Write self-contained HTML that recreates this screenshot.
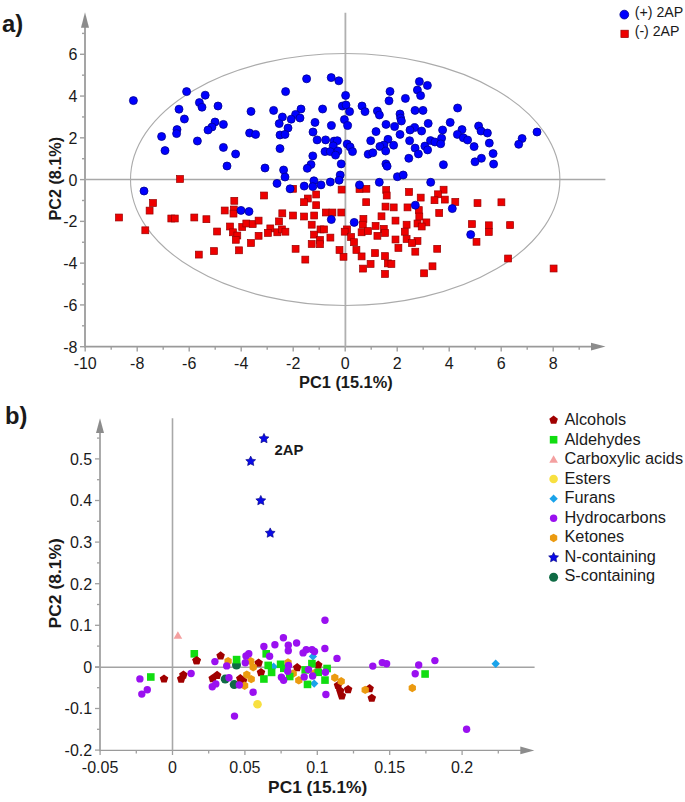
<!DOCTYPE html>
<html><head><meta charset="utf-8"><style>
html,body{margin:0;padding:0;background:#fff;}
svg{display:block;font-family:"Liberation Sans",sans-serif;}
</style></head><body>
<svg width="685" height="802" viewBox="0 0 685 802">
<rect width="685" height="802" fill="#fff"/>
<line x1="85.00" y1="26.00" x2="85.00" y2="347.40" stroke="#a5a5a5" stroke-width="2"/>
<line x1="84.20" y1="346.60" x2="592.00" y2="346.60" stroke="#9a9a9a" stroke-width="1.6"/>
<polygon points="85,12.3 81,27.8 89,27.8" fill="#8c8c8c"/>
<polygon points="605.5,346.6 591,342.8 591,350.4" fill="#8c8c8c"/>
<line x1="345.40" y1="12.80" x2="345.40" y2="346.70" stroke="#b0b0b0" stroke-width="1.8"/>
<line x1="85.00" y1="179.50" x2="605.40" y2="179.50" stroke="#a8a8a8" stroke-width="1.6"/>
<ellipse cx="345.2" cy="179.5" rx="214.7" ry="126" fill="none" stroke="#ababab" stroke-width="1.1"/>
<line x1="80.00" y1="346.69" x2="85.00" y2="346.69" stroke="#a0a0a0" stroke-width="1.4"/>
<text x="77.50" y="352.69" font-size="16" text-anchor="end" fill="#1a1a1a">-8</text>
<line x1="82.00" y1="325.80" x2="85.00" y2="325.80" stroke="#a0a0a0" stroke-width="1.4"/>
<line x1="80.00" y1="304.92" x2="85.00" y2="304.92" stroke="#a0a0a0" stroke-width="1.4"/>
<text x="77.50" y="310.92" font-size="16" text-anchor="end" fill="#1a1a1a">-6</text>
<line x1="82.00" y1="284.03" x2="85.00" y2="284.03" stroke="#a0a0a0" stroke-width="1.4"/>
<line x1="80.00" y1="263.14" x2="85.00" y2="263.14" stroke="#a0a0a0" stroke-width="1.4"/>
<text x="77.50" y="269.14" font-size="16" text-anchor="end" fill="#1a1a1a">-4</text>
<line x1="82.00" y1="242.26" x2="85.00" y2="242.26" stroke="#a0a0a0" stroke-width="1.4"/>
<line x1="80.00" y1="221.37" x2="85.00" y2="221.37" stroke="#a0a0a0" stroke-width="1.4"/>
<text x="77.50" y="227.37" font-size="16" text-anchor="end" fill="#1a1a1a">-2</text>
<line x1="82.00" y1="200.49" x2="85.00" y2="200.49" stroke="#a0a0a0" stroke-width="1.4"/>
<line x1="80.00" y1="179.60" x2="85.00" y2="179.60" stroke="#a0a0a0" stroke-width="1.4"/>
<text x="77.50" y="185.60" font-size="16" text-anchor="end" fill="#1a1a1a">0</text>
<line x1="82.00" y1="158.71" x2="85.00" y2="158.71" stroke="#a0a0a0" stroke-width="1.4"/>
<line x1="80.00" y1="137.83" x2="85.00" y2="137.83" stroke="#a0a0a0" stroke-width="1.4"/>
<text x="77.50" y="143.83" font-size="16" text-anchor="end" fill="#1a1a1a">2</text>
<line x1="82.00" y1="116.94" x2="85.00" y2="116.94" stroke="#a0a0a0" stroke-width="1.4"/>
<line x1="80.00" y1="96.06" x2="85.00" y2="96.06" stroke="#a0a0a0" stroke-width="1.4"/>
<text x="77.50" y="102.06" font-size="16" text-anchor="end" fill="#1a1a1a">4</text>
<line x1="82.00" y1="75.17" x2="85.00" y2="75.17" stroke="#a0a0a0" stroke-width="1.4"/>
<line x1="80.00" y1="54.28" x2="85.00" y2="54.28" stroke="#a0a0a0" stroke-width="1.4"/>
<text x="77.50" y="60.28" font-size="16" text-anchor="end" fill="#1a1a1a">6</text>
<line x1="82.00" y1="33.40" x2="85.00" y2="33.40" stroke="#a0a0a0" stroke-width="1.4"/>
<line x1="85.20" y1="346.70" x2="85.20" y2="351.50" stroke="#a0a0a0" stroke-width="1.4"/>
<text x="85.20" y="369.20" font-size="16" text-anchor="middle" fill="#1a1a1a">-10</text>
<line x1="111.20" y1="346.70" x2="111.20" y2="349.80" stroke="#a0a0a0" stroke-width="1.4"/>
<line x1="137.20" y1="346.70" x2="137.20" y2="351.50" stroke="#a0a0a0" stroke-width="1.4"/>
<text x="137.20" y="369.20" font-size="16" text-anchor="middle" fill="#1a1a1a">-8</text>
<line x1="163.20" y1="346.70" x2="163.20" y2="349.80" stroke="#a0a0a0" stroke-width="1.4"/>
<line x1="189.20" y1="346.70" x2="189.20" y2="351.50" stroke="#a0a0a0" stroke-width="1.4"/>
<text x="189.20" y="369.20" font-size="16" text-anchor="middle" fill="#1a1a1a">-6</text>
<line x1="215.20" y1="346.70" x2="215.20" y2="349.80" stroke="#a0a0a0" stroke-width="1.4"/>
<line x1="241.20" y1="346.70" x2="241.20" y2="351.50" stroke="#a0a0a0" stroke-width="1.4"/>
<text x="241.20" y="369.20" font-size="16" text-anchor="middle" fill="#1a1a1a">-4</text>
<line x1="267.20" y1="346.70" x2="267.20" y2="349.80" stroke="#a0a0a0" stroke-width="1.4"/>
<line x1="293.20" y1="346.70" x2="293.20" y2="351.50" stroke="#a0a0a0" stroke-width="1.4"/>
<text x="293.20" y="369.20" font-size="16" text-anchor="middle" fill="#1a1a1a">-2</text>
<line x1="319.20" y1="346.70" x2="319.20" y2="349.80" stroke="#a0a0a0" stroke-width="1.4"/>
<line x1="345.20" y1="346.70" x2="345.20" y2="351.50" stroke="#a0a0a0" stroke-width="1.4"/>
<text x="345.20" y="369.20" font-size="16" text-anchor="middle" fill="#1a1a1a">0</text>
<line x1="371.20" y1="346.70" x2="371.20" y2="349.80" stroke="#a0a0a0" stroke-width="1.4"/>
<line x1="397.20" y1="346.70" x2="397.20" y2="351.50" stroke="#a0a0a0" stroke-width="1.4"/>
<text x="397.20" y="369.20" font-size="16" text-anchor="middle" fill="#1a1a1a">2</text>
<line x1="423.20" y1="346.70" x2="423.20" y2="349.80" stroke="#a0a0a0" stroke-width="1.4"/>
<line x1="449.20" y1="346.70" x2="449.20" y2="351.50" stroke="#a0a0a0" stroke-width="1.4"/>
<text x="449.20" y="369.20" font-size="16" text-anchor="middle" fill="#1a1a1a">4</text>
<line x1="475.20" y1="346.70" x2="475.20" y2="349.80" stroke="#a0a0a0" stroke-width="1.4"/>
<line x1="501.20" y1="346.70" x2="501.20" y2="351.50" stroke="#a0a0a0" stroke-width="1.4"/>
<text x="501.20" y="369.20" font-size="16" text-anchor="middle" fill="#1a1a1a">6</text>
<line x1="527.20" y1="346.70" x2="527.20" y2="349.80" stroke="#a0a0a0" stroke-width="1.4"/>
<line x1="553.20" y1="346.70" x2="553.20" y2="351.50" stroke="#a0a0a0" stroke-width="1.4"/>
<text x="553.20" y="369.20" font-size="16" text-anchor="middle" fill="#1a1a1a">8</text>
<line x1="579.20" y1="346.70" x2="579.20" y2="349.80" stroke="#a0a0a0" stroke-width="1.4"/>
<text x="299.00" y="387.60" font-size="15.8" text-anchor="start" font-weight="bold" textLength="93.7" lengthAdjust="spacingAndGlyphs" fill="#1a1a1a">PC1 (15.1%)</text>
<text transform="translate(60.7,220.6) rotate(-90)" font-size="16.5" font-weight="bold" textLength="83.7" lengthAdjust="spacingAndGlyphs" fill="#1a1a1a">PC2 (8.1%)</text>
<text x="1.90" y="31.60" font-size="23" text-anchor="start" font-weight="bold" textLength="21.2" lengthAdjust="spacingAndGlyphs" fill="#1a1a1a">a)</text>
<circle cx="624.3" cy="14.6" r="4.4" fill="#0000ff" stroke="#000090" stroke-width="0.8"/>
<rect x="620.9" y="30.2" width="7.4" height="7.4" fill="#ee0000" stroke="#990000" stroke-width="0.7"/>
<text x="634.70" y="16.70" font-size="14.5" text-anchor="start" textLength="48.6" lengthAdjust="spacingAndGlyphs" fill="#1a1a1a">(+) 2AP</text>
<text x="634.70" y="36.20" font-size="14.5" text-anchor="start" textLength="44.8" lengthAdjust="spacingAndGlyphs" fill="#1a1a1a">(-) 2AP</text>
<line x1="100.00" y1="432.00" x2="100.00" y2="751.20" stroke="#ababab" stroke-width="2"/>
<line x1="99.20" y1="750.40" x2="521.00" y2="750.40" stroke="#9a9a9a" stroke-width="1.4"/>
<polygon points="100,418.2 96,433 104,433" fill="#8c8c8c"/>
<polygon points="534.3,750.4 520.3,746.6 520.3,754.2" fill="#8c8c8c"/>
<line x1="172.50" y1="418.30" x2="172.50" y2="750.40" stroke="#a8a8a8" stroke-width="1.6"/>
<line x1="95.00" y1="667.20" x2="534.60" y2="667.20" stroke="#a3a3a3" stroke-width="1.5"/>
<line x1="95.00" y1="750.10" x2="100.00" y2="750.10" stroke="#a0a0a0" stroke-width="1.3"/>
<text x="92.20" y="755.90" font-size="16" text-anchor="end" fill="#1a1a1a">-0.2</text>
<line x1="97.00" y1="729.30" x2="100.00" y2="729.30" stroke="#a0a0a0" stroke-width="1.3"/>
<line x1="95.00" y1="708.50" x2="100.00" y2="708.50" stroke="#a0a0a0" stroke-width="1.3"/>
<text x="92.20" y="714.30" font-size="16" text-anchor="end" fill="#1a1a1a">-0.1</text>
<line x1="97.00" y1="687.70" x2="100.00" y2="687.70" stroke="#a0a0a0" stroke-width="1.3"/>
<line x1="95.00" y1="666.90" x2="100.00" y2="666.90" stroke="#a0a0a0" stroke-width="1.3"/>
<text x="92.20" y="672.70" font-size="16" text-anchor="end" fill="#1a1a1a">0</text>
<line x1="97.00" y1="646.10" x2="100.00" y2="646.10" stroke="#a0a0a0" stroke-width="1.3"/>
<line x1="95.00" y1="625.30" x2="100.00" y2="625.30" stroke="#a0a0a0" stroke-width="1.3"/>
<text x="92.20" y="631.10" font-size="16" text-anchor="end" fill="#1a1a1a">0.1</text>
<line x1="97.00" y1="604.50" x2="100.00" y2="604.50" stroke="#a0a0a0" stroke-width="1.3"/>
<line x1="95.00" y1="583.70" x2="100.00" y2="583.70" stroke="#a0a0a0" stroke-width="1.3"/>
<text x="92.20" y="589.50" font-size="16" text-anchor="end" fill="#1a1a1a">0.2</text>
<line x1="97.00" y1="562.90" x2="100.00" y2="562.90" stroke="#a0a0a0" stroke-width="1.3"/>
<line x1="95.00" y1="542.10" x2="100.00" y2="542.10" stroke="#a0a0a0" stroke-width="1.3"/>
<text x="92.20" y="547.90" font-size="16" text-anchor="end" fill="#1a1a1a">0.3</text>
<line x1="97.00" y1="521.30" x2="100.00" y2="521.30" stroke="#a0a0a0" stroke-width="1.3"/>
<line x1="95.00" y1="500.50" x2="100.00" y2="500.50" stroke="#a0a0a0" stroke-width="1.3"/>
<text x="92.20" y="506.30" font-size="16" text-anchor="end" fill="#1a1a1a">0.4</text>
<line x1="97.00" y1="479.70" x2="100.00" y2="479.70" stroke="#a0a0a0" stroke-width="1.3"/>
<line x1="95.00" y1="458.90" x2="100.00" y2="458.90" stroke="#a0a0a0" stroke-width="1.3"/>
<text x="92.20" y="464.70" font-size="16" text-anchor="end" fill="#1a1a1a">0.5</text>
<line x1="97.00" y1="438.10" x2="100.00" y2="438.10" stroke="#a0a0a0" stroke-width="1.3"/>
<line x1="100.10" y1="750.50" x2="100.10" y2="755.00" stroke="#a0a0a0" stroke-width="1.3"/>
<text x="100.10" y="773.20" font-size="16" text-anchor="middle" fill="#1a1a1a">-0.05</text>
<line x1="136.30" y1="750.50" x2="136.30" y2="753.50" stroke="#a0a0a0" stroke-width="1.3"/>
<line x1="172.50" y1="750.50" x2="172.50" y2="755.00" stroke="#a0a0a0" stroke-width="1.3"/>
<text x="172.50" y="773.20" font-size="16" text-anchor="middle" fill="#1a1a1a">0</text>
<line x1="208.70" y1="750.50" x2="208.70" y2="753.50" stroke="#a0a0a0" stroke-width="1.3"/>
<line x1="244.90" y1="750.50" x2="244.90" y2="755.00" stroke="#a0a0a0" stroke-width="1.3"/>
<text x="244.90" y="773.20" font-size="16" text-anchor="middle" fill="#1a1a1a">0.05</text>
<line x1="281.10" y1="750.50" x2="281.10" y2="753.50" stroke="#a0a0a0" stroke-width="1.3"/>
<line x1="317.30" y1="750.50" x2="317.30" y2="755.00" stroke="#a0a0a0" stroke-width="1.3"/>
<text x="317.30" y="773.20" font-size="16" text-anchor="middle" fill="#1a1a1a">0.1</text>
<line x1="353.50" y1="750.50" x2="353.50" y2="753.50" stroke="#a0a0a0" stroke-width="1.3"/>
<line x1="389.70" y1="750.50" x2="389.70" y2="755.00" stroke="#a0a0a0" stroke-width="1.3"/>
<text x="389.70" y="773.20" font-size="16" text-anchor="middle" fill="#1a1a1a">0.15</text>
<line x1="425.90" y1="750.50" x2="425.90" y2="753.50" stroke="#a0a0a0" stroke-width="1.3"/>
<line x1="462.10" y1="750.50" x2="462.10" y2="755.00" stroke="#a0a0a0" stroke-width="1.3"/>
<text x="462.10" y="773.20" font-size="16" text-anchor="middle" fill="#1a1a1a">0.2</text>
<line x1="498.30" y1="750.50" x2="498.30" y2="753.50" stroke="#a0a0a0" stroke-width="1.3"/>
<text x="268.10" y="792.60" font-size="16.5" text-anchor="start" font-weight="bold" textLength="99.1" lengthAdjust="spacingAndGlyphs" fill="#1a1a1a">PC1 (15.1%)</text>
<text transform="translate(60.5,628.4) rotate(-90)" font-size="17" font-weight="bold" textLength="90.2" lengthAdjust="spacingAndGlyphs" fill="#1a1a1a">PC2 (8.1%)</text>
<text x="4.90" y="424.00" font-size="23" text-anchor="start" font-weight="bold" textLength="22.4" lengthAdjust="spacingAndGlyphs" fill="#1a1a1a">b)</text>
<text x="274.40" y="454.50" font-size="15.5" text-anchor="start" font-weight="bold" textLength="28.9" lengthAdjust="spacingAndGlyphs" fill="#1a1a1a">2AP</text>
<polygon points="553.60,415.60 557.88,418.71 556.25,423.74 550.95,423.74 549.32,418.71" fill="#a00000"/>
<text x="564.50" y="425.00" font-size="16.3" text-anchor="start" fill="#1a1a1a">Alcohols</text>
<rect x="549.80" y="435.94" width="7.6" height="7.6" fill="#11dd11"/>
<text x="564.50" y="444.55" font-size="16.3" text-anchor="start" fill="#1a1a1a">Aldehydes</text>
<polygon points="553.60,455.18 557.93,462.68 549.27,462.68" fill="#f4a0a0"/>
<text x="564.50" y="464.10" font-size="16.3" text-anchor="start" fill="#1a1a1a">Carboxylic acids</text>
<circle cx="553.6" cy="479.02000000000004" r="4.3" fill="#f8e040"/>
<text x="564.50" y="483.65" font-size="16.3" text-anchor="start" fill="#1a1a1a">Esters</text>
<polygon points="553.6,494.46000000000004 557.8000000000001,498.66 553.6,502.86 549.4,498.66" fill="#1aa3ea"/>
<text x="564.50" y="503.20" font-size="16.3" text-anchor="start" fill="#1a1a1a">Furans</text>
<circle cx="553.6" cy="518.3000000000001" r="3.7" fill="#9a10f0"/>
<text x="564.50" y="522.75" font-size="16.3" text-anchor="start" fill="#1a1a1a">Hydrocarbons</text>
<polygon points="553.60,533.74 557.24,535.84 557.24,540.04 553.60,542.14 549.96,540.04 549.96,535.84" fill="#eb9a10"/>
<text x="564.50" y="542.30" font-size="16.3" text-anchor="start" fill="#1a1a1a">Ketones</text>
<polygon points="553.60,552.38 555.13,555.48 558.55,555.97 556.07,558.38 556.66,561.79 553.60,560.18 550.54,561.79 551.13,558.38 548.65,555.97 552.07,555.48" fill="#0a0ae8" stroke="#00007a" stroke-width="0.6" stroke-linejoin="round"/>
<text x="564.50" y="561.85" font-size="16.3" text-anchor="start" fill="#1a1a1a">N-containing</text>
<circle cx="553.6" cy="577.22" r="4.5" fill="#0f6b45"/>
<text x="564.50" y="581.40" font-size="16.3" text-anchor="start" fill="#1a1a1a">S-containing</text>
<rect x="176.55" y="175.55" width="6.9" height="6.9" fill="#ee0000" stroke="#990000" stroke-width="0.7"/>
<rect x="149.55" y="199.55" width="6.9" height="6.9" fill="#ee0000" stroke="#990000" stroke-width="0.7"/>
<rect x="146.15" y="207.15" width="6.9" height="6.9" fill="#ee0000" stroke="#990000" stroke-width="0.7"/>
<rect x="115.55" y="214.05" width="6.9" height="6.9" fill="#ee0000" stroke="#990000" stroke-width="0.7"/>
<rect x="167.85" y="215.05" width="6.9" height="6.9" fill="#ee0000" stroke="#990000" stroke-width="0.7"/>
<rect x="171.35" y="215.05" width="6.9" height="6.9" fill="#ee0000" stroke="#990000" stroke-width="0.7"/>
<rect x="141.85" y="226.85" width="6.9" height="6.9" fill="#ee0000" stroke="#990000" stroke-width="0.7"/>
<rect x="230.85" y="197.35" width="6.9" height="6.9" fill="#ee0000" stroke="#990000" stroke-width="0.7"/>
<rect x="221.25" y="207.05" width="6.9" height="6.9" fill="#ee0000" stroke="#990000" stroke-width="0.7"/>
<rect x="230.35" y="206.05" width="6.9" height="6.9" fill="#ee0000" stroke="#990000" stroke-width="0.7"/>
<rect x="230.05" y="210.15" width="6.9" height="6.9" fill="#ee0000" stroke="#990000" stroke-width="0.7"/>
<rect x="260.65" y="192.05" width="6.9" height="6.9" fill="#ee0000" stroke="#990000" stroke-width="0.7"/>
<rect x="190.85" y="214.05" width="6.9" height="6.9" fill="#ee0000" stroke="#990000" stroke-width="0.7"/>
<rect x="202.95" y="215.75" width="6.9" height="6.9" fill="#ee0000" stroke="#990000" stroke-width="0.7"/>
<rect x="213.65" y="228.05" width="6.9" height="6.9" fill="#ee0000" stroke="#990000" stroke-width="0.7"/>
<rect x="226.55" y="223.05" width="6.9" height="6.9" fill="#ee0000" stroke="#990000" stroke-width="0.7"/>
<rect x="229.45" y="228.85" width="6.9" height="6.9" fill="#ee0000" stroke="#990000" stroke-width="0.7"/>
<rect x="233.85" y="232.05" width="6.9" height="6.9" fill="#ee0000" stroke="#990000" stroke-width="0.7"/>
<rect x="232.35" y="236.35" width="6.9" height="6.9" fill="#ee0000" stroke="#990000" stroke-width="0.7"/>
<rect x="238.75" y="223.55" width="6.9" height="6.9" fill="#ee0000" stroke="#990000" stroke-width="0.7"/>
<rect x="242.85" y="220.05" width="6.9" height="6.9" fill="#ee0000" stroke="#990000" stroke-width="0.7"/>
<rect x="249.25" y="220.65" width="6.9" height="6.9" fill="#ee0000" stroke="#990000" stroke-width="0.7"/>
<rect x="255.15" y="217.15" width="6.9" height="6.9" fill="#ee0000" stroke="#990000" stroke-width="0.7"/>
<rect x="255.15" y="232.35" width="6.9" height="6.9" fill="#ee0000" stroke="#990000" stroke-width="0.7"/>
<rect x="247.55" y="239.55" width="6.9" height="6.9" fill="#ee0000" stroke="#990000" stroke-width="0.7"/>
<rect x="289.55" y="185.35" width="6.9" height="6.9" fill="#ee0000" stroke="#990000" stroke-width="0.7"/>
<rect x="338.15" y="186.15" width="6.9" height="6.9" fill="#ee0000" stroke="#990000" stroke-width="0.7"/>
<rect x="312.75" y="191.05" width="6.9" height="6.9" fill="#ee0000" stroke="#990000" stroke-width="0.7"/>
<rect x="304.35" y="195.05" width="6.9" height="6.9" fill="#ee0000" stroke="#990000" stroke-width="0.7"/>
<rect x="300.55" y="198.75" width="6.9" height="6.9" fill="#ee0000" stroke="#990000" stroke-width="0.7"/>
<rect x="312.75" y="201.75" width="6.9" height="6.9" fill="#ee0000" stroke="#990000" stroke-width="0.7"/>
<rect x="278.85" y="209.85" width="6.9" height="6.9" fill="#ee0000" stroke="#990000" stroke-width="0.7"/>
<rect x="289.55" y="212.05" width="6.9" height="6.9" fill="#ee0000" stroke="#990000" stroke-width="0.7"/>
<rect x="300.65" y="213.05" width="6.9" height="6.9" fill="#ee0000" stroke="#990000" stroke-width="0.7"/>
<rect x="310.75" y="212.05" width="6.9" height="6.9" fill="#ee0000" stroke="#990000" stroke-width="0.7"/>
<rect x="322.35" y="209.05" width="6.9" height="6.9" fill="#ee0000" stroke="#990000" stroke-width="0.7"/>
<rect x="328.95" y="209.05" width="6.9" height="6.9" fill="#ee0000" stroke="#990000" stroke-width="0.7"/>
<rect x="337.85" y="209.05" width="6.9" height="6.9" fill="#ee0000" stroke="#990000" stroke-width="0.7"/>
<rect x="275.55" y="217.95" width="6.9" height="6.9" fill="#ee0000" stroke="#990000" stroke-width="0.7"/>
<rect x="266.85" y="224.95" width="6.9" height="6.9" fill="#ee0000" stroke="#990000" stroke-width="0.7"/>
<rect x="264.45" y="229.45" width="6.9" height="6.9" fill="#ee0000" stroke="#990000" stroke-width="0.7"/>
<rect x="273.85" y="228.85" width="6.9" height="6.9" fill="#ee0000" stroke="#990000" stroke-width="0.7"/>
<rect x="278.45" y="225.95" width="6.9" height="6.9" fill="#ee0000" stroke="#990000" stroke-width="0.7"/>
<rect x="281.95" y="228.25" width="6.9" height="6.9" fill="#ee0000" stroke="#990000" stroke-width="0.7"/>
<rect x="308.25" y="221.25" width="6.9" height="6.9" fill="#ee0000" stroke="#990000" stroke-width="0.7"/>
<rect x="317.05" y="225.95" width="6.9" height="6.9" fill="#ee0000" stroke="#990000" stroke-width="0.7"/>
<rect x="320.55" y="225.95" width="6.9" height="6.9" fill="#ee0000" stroke="#990000" stroke-width="0.7"/>
<rect x="310.65" y="231.15" width="6.9" height="6.9" fill="#ee0000" stroke="#990000" stroke-width="0.7"/>
<rect x="326.95" y="234.15" width="6.9" height="6.9" fill="#ee0000" stroke="#990000" stroke-width="0.7"/>
<rect x="316.45" y="236.55" width="6.9" height="6.9" fill="#ee0000" stroke="#990000" stroke-width="0.7"/>
<rect x="308.25" y="240.55" width="6.9" height="6.9" fill="#ee0000" stroke="#990000" stroke-width="0.7"/>
<rect x="316.45" y="240.75" width="6.9" height="6.9" fill="#ee0000" stroke="#990000" stroke-width="0.7"/>
<rect x="356.05" y="185.55" width="6.9" height="6.9" fill="#ee0000" stroke="#990000" stroke-width="0.7"/>
<rect x="362.95" y="185.35" width="6.9" height="6.9" fill="#ee0000" stroke="#990000" stroke-width="0.7"/>
<rect x="382.75" y="186.55" width="6.9" height="6.9" fill="#ee0000" stroke="#990000" stroke-width="0.7"/>
<rect x="383.25" y="192.05" width="6.9" height="6.9" fill="#ee0000" stroke="#990000" stroke-width="0.7"/>
<rect x="405.55" y="188.55" width="6.9" height="6.9" fill="#ee0000" stroke="#990000" stroke-width="0.7"/>
<rect x="362.75" y="198.75" width="6.9" height="6.9" fill="#ee0000" stroke="#990000" stroke-width="0.7"/>
<rect x="382.05" y="203.15" width="6.9" height="6.9" fill="#ee0000" stroke="#990000" stroke-width="0.7"/>
<rect x="390.25" y="203.95" width="6.9" height="6.9" fill="#ee0000" stroke="#990000" stroke-width="0.7"/>
<rect x="404.05" y="203.95" width="6.9" height="6.9" fill="#ee0000" stroke="#990000" stroke-width="0.7"/>
<rect x="378.05" y="212.85" width="6.9" height="6.9" fill="#ee0000" stroke="#990000" stroke-width="0.7"/>
<rect x="392.05" y="217.15" width="6.9" height="6.9" fill="#ee0000" stroke="#990000" stroke-width="0.7"/>
<rect x="359.95" y="215.45" width="6.9" height="6.9" fill="#ee0000" stroke="#990000" stroke-width="0.7"/>
<rect x="359.35" y="221.25" width="6.9" height="6.9" fill="#ee0000" stroke="#990000" stroke-width="0.7"/>
<rect x="403.15" y="221.25" width="6.9" height="6.9" fill="#ee0000" stroke="#990000" stroke-width="0.7"/>
<rect x="414.05" y="220.05" width="6.9" height="6.9" fill="#ee0000" stroke="#990000" stroke-width="0.7"/>
<rect x="343.55" y="225.95" width="6.9" height="6.9" fill="#ee0000" stroke="#990000" stroke-width="0.7"/>
<rect x="341.25" y="228.25" width="6.9" height="6.9" fill="#ee0000" stroke="#990000" stroke-width="0.7"/>
<rect x="358.15" y="228.85" width="6.9" height="6.9" fill="#ee0000" stroke="#990000" stroke-width="0.7"/>
<rect x="364.55" y="227.65" width="6.9" height="6.9" fill="#ee0000" stroke="#990000" stroke-width="0.7"/>
<rect x="372.15" y="222.45" width="6.9" height="6.9" fill="#ee0000" stroke="#990000" stroke-width="0.7"/>
<rect x="380.35" y="225.35" width="6.9" height="6.9" fill="#ee0000" stroke="#990000" stroke-width="0.7"/>
<rect x="381.55" y="229.45" width="6.9" height="6.9" fill="#ee0000" stroke="#990000" stroke-width="0.7"/>
<rect x="373.95" y="232.35" width="6.9" height="6.9" fill="#ee0000" stroke="#990000" stroke-width="0.7"/>
<rect x="347.65" y="233.55" width="6.9" height="6.9" fill="#ee0000" stroke="#990000" stroke-width="0.7"/>
<rect x="350.55" y="238.75" width="6.9" height="6.9" fill="#ee0000" stroke="#990000" stroke-width="0.7"/>
<rect x="392.05" y="236.05" width="6.9" height="6.9" fill="#ee0000" stroke="#990000" stroke-width="0.7"/>
<rect x="401.35" y="228.25" width="6.9" height="6.9" fill="#ee0000" stroke="#990000" stroke-width="0.7"/>
<rect x="403.15" y="235.55" width="6.9" height="6.9" fill="#ee0000" stroke="#990000" stroke-width="0.7"/>
<rect x="414.05" y="237.55" width="6.9" height="6.9" fill="#ee0000" stroke="#990000" stroke-width="0.7"/>
<rect x="408.55" y="239.55" width="6.9" height="6.9" fill="#ee0000" stroke="#990000" stroke-width="0.7"/>
<rect x="417.25" y="194.15" width="6.9" height="6.9" fill="#ee0000" stroke="#990000" stroke-width="0.7"/>
<rect x="440.15" y="186.25" width="6.9" height="6.9" fill="#ee0000" stroke="#990000" stroke-width="0.7"/>
<rect x="434.55" y="190.85" width="6.9" height="6.9" fill="#ee0000" stroke="#990000" stroke-width="0.7"/>
<rect x="431.05" y="196.75" width="6.9" height="6.9" fill="#ee0000" stroke="#990000" stroke-width="0.7"/>
<rect x="441.35" y="196.15" width="6.9" height="6.9" fill="#ee0000" stroke="#990000" stroke-width="0.7"/>
<rect x="451.85" y="198.45" width="6.9" height="6.9" fill="#ee0000" stroke="#990000" stroke-width="0.7"/>
<rect x="474.05" y="199.65" width="6.9" height="6.9" fill="#ee0000" stroke="#990000" stroke-width="0.7"/>
<rect x="415.35" y="206.65" width="6.9" height="6.9" fill="#ee0000" stroke="#990000" stroke-width="0.7"/>
<rect x="435.75" y="209.55" width="6.9" height="6.9" fill="#ee0000" stroke="#990000" stroke-width="0.7"/>
<rect x="415.85" y="213.05" width="6.9" height="6.9" fill="#ee0000" stroke="#990000" stroke-width="0.7"/>
<rect x="422.95" y="218.95" width="6.9" height="6.9" fill="#ee0000" stroke="#990000" stroke-width="0.7"/>
<rect x="418.25" y="223.05" width="6.9" height="6.9" fill="#ee0000" stroke="#990000" stroke-width="0.7"/>
<rect x="468.45" y="220.65" width="6.9" height="6.9" fill="#ee0000" stroke="#990000" stroke-width="0.7"/>
<rect x="485.35" y="221.85" width="6.9" height="6.9" fill="#ee0000" stroke="#990000" stroke-width="0.7"/>
<rect x="485.35" y="228.55" width="6.9" height="6.9" fill="#ee0000" stroke="#990000" stroke-width="0.7"/>
<rect x="473.05" y="238.35" width="6.9" height="6.9" fill="#ee0000" stroke="#990000" stroke-width="0.7"/>
<rect x="497.95" y="198.85" width="6.9" height="6.9" fill="#ee0000" stroke="#990000" stroke-width="0.7"/>
<rect x="506.65" y="221.65" width="6.9" height="6.9" fill="#ee0000" stroke="#990000" stroke-width="0.7"/>
<rect x="195.35" y="251.15" width="6.9" height="6.9" fill="#ee0000" stroke="#990000" stroke-width="0.7"/>
<rect x="210.55" y="247.65" width="6.9" height="6.9" fill="#ee0000" stroke="#990000" stroke-width="0.7"/>
<rect x="235.55" y="246.85" width="6.9" height="6.9" fill="#ee0000" stroke="#990000" stroke-width="0.7"/>
<rect x="292.15" y="245.35" width="6.9" height="6.9" fill="#ee0000" stroke="#990000" stroke-width="0.7"/>
<rect x="301.85" y="256.15" width="6.9" height="6.9" fill="#ee0000" stroke="#990000" stroke-width="0.7"/>
<rect x="336.05" y="246.55" width="6.9" height="6.9" fill="#ee0000" stroke="#990000" stroke-width="0.7"/>
<rect x="340.05" y="253.35" width="6.9" height="6.9" fill="#ee0000" stroke="#990000" stroke-width="0.7"/>
<rect x="352.95" y="246.45" width="6.9" height="6.9" fill="#ee0000" stroke="#990000" stroke-width="0.7"/>
<rect x="358.15" y="252.95" width="6.9" height="6.9" fill="#ee0000" stroke="#990000" stroke-width="0.7"/>
<rect x="371.55" y="249.65" width="6.9" height="6.9" fill="#ee0000" stroke="#990000" stroke-width="0.7"/>
<rect x="381.55" y="252.65" width="6.9" height="6.9" fill="#ee0000" stroke="#990000" stroke-width="0.7"/>
<rect x="384.45" y="259.95" width="6.9" height="6.9" fill="#ee0000" stroke="#990000" stroke-width="0.7"/>
<rect x="387.95" y="260.45" width="6.9" height="6.9" fill="#ee0000" stroke="#990000" stroke-width="0.7"/>
<rect x="367.15" y="260.45" width="6.9" height="6.9" fill="#ee0000" stroke="#990000" stroke-width="0.7"/>
<rect x="359.65" y="265.15" width="6.9" height="6.9" fill="#ee0000" stroke="#990000" stroke-width="0.7"/>
<rect x="381.55" y="270.45" width="6.9" height="6.9" fill="#ee0000" stroke="#990000" stroke-width="0.7"/>
<rect x="394.95" y="244.45" width="6.9" height="6.9" fill="#ee0000" stroke="#990000" stroke-width="0.7"/>
<rect x="411.85" y="248.25" width="6.9" height="6.9" fill="#ee0000" stroke="#990000" stroke-width="0.7"/>
<rect x="433.75" y="245.35" width="6.9" height="6.9" fill="#ee0000" stroke="#990000" stroke-width="0.7"/>
<rect x="429.05" y="262.85" width="6.9" height="6.9" fill="#ee0000" stroke="#990000" stroke-width="0.7"/>
<rect x="420.65" y="269.85" width="6.9" height="6.9" fill="#ee0000" stroke="#990000" stroke-width="0.7"/>
<rect x="504.65" y="255.05" width="6.9" height="6.9" fill="#ee0000" stroke="#990000" stroke-width="0.7"/>
<rect x="550.15" y="265.05" width="6.9" height="6.9" fill="#ee0000" stroke="#990000" stroke-width="0.7"/>
<circle cx="133.4" cy="100.6" r="4.0" fill="#0000ff" stroke="#000090" stroke-width="0.8"/>
<circle cx="186.6" cy="91.6" r="4.0" fill="#0000ff" stroke="#000090" stroke-width="0.8"/>
<circle cx="205.2" cy="95.2" r="4.0" fill="#0000ff" stroke="#000090" stroke-width="0.8"/>
<circle cx="199.4" cy="102.6" r="4.0" fill="#0000ff" stroke="#000090" stroke-width="0.8"/>
<circle cx="202" cy="107.2" r="4.0" fill="#0000ff" stroke="#000090" stroke-width="0.8"/>
<circle cx="218" cy="106" r="4.0" fill="#0000ff" stroke="#000090" stroke-width="0.8"/>
<circle cx="179" cy="109.2" r="4.0" fill="#0000ff" stroke="#000090" stroke-width="0.8"/>
<circle cx="184.4" cy="119" r="4.0" fill="#0000ff" stroke="#000090" stroke-width="0.8"/>
<circle cx="215" cy="122" r="4.0" fill="#0000ff" stroke="#000090" stroke-width="0.8"/>
<circle cx="223.4" cy="124.4" r="4.0" fill="#0000ff" stroke="#000090" stroke-width="0.8"/>
<circle cx="212" cy="127" r="4.0" fill="#0000ff" stroke="#000090" stroke-width="0.8"/>
<circle cx="208" cy="130" r="4.0" fill="#0000ff" stroke="#000090" stroke-width="0.8"/>
<circle cx="177" cy="129.6" r="4.0" fill="#0000ff" stroke="#000090" stroke-width="0.8"/>
<circle cx="176.6" cy="133.6" r="4.0" fill="#0000ff" stroke="#000090" stroke-width="0.8"/>
<circle cx="161.6" cy="136.5" r="4.0" fill="#0000ff" stroke="#000090" stroke-width="0.8"/>
<circle cx="251" cy="111.4" r="4.0" fill="#0000ff" stroke="#000090" stroke-width="0.8"/>
<circle cx="285.6" cy="91.6" r="4.0" fill="#0000ff" stroke="#000090" stroke-width="0.8"/>
<circle cx="306.6" cy="78.8" r="4.0" fill="#0000ff" stroke="#000090" stroke-width="0.8"/>
<circle cx="331.2" cy="77.6" r="4.0" fill="#0000ff" stroke="#000090" stroke-width="0.8"/>
<circle cx="338.8" cy="80.8" r="4.0" fill="#0000ff" stroke="#000090" stroke-width="0.8"/>
<circle cx="345.6" cy="95.4" r="4.0" fill="#0000ff" stroke="#000090" stroke-width="0.8"/>
<circle cx="273.6" cy="110.4" r="4.0" fill="#0000ff" stroke="#000090" stroke-width="0.8"/>
<circle cx="301" cy="109" r="4.0" fill="#0000ff" stroke="#000090" stroke-width="0.8"/>
<circle cx="322.6" cy="109" r="4.0" fill="#0000ff" stroke="#000090" stroke-width="0.8"/>
<circle cx="342.4" cy="106" r="4.0" fill="#0000ff" stroke="#000090" stroke-width="0.8"/>
<circle cx="346" cy="105" r="4.0" fill="#0000ff" stroke="#000090" stroke-width="0.8"/>
<circle cx="349.6" cy="111.6" r="4.0" fill="#0000ff" stroke="#000090" stroke-width="0.8"/>
<circle cx="362" cy="106" r="4.0" fill="#0000ff" stroke="#000090" stroke-width="0.8"/>
<circle cx="365" cy="111.6" r="4.0" fill="#0000ff" stroke="#000090" stroke-width="0.8"/>
<circle cx="282.4" cy="117" r="4.0" fill="#0000ff" stroke="#000090" stroke-width="0.8"/>
<circle cx="295.6" cy="114.4" r="4.0" fill="#0000ff" stroke="#000090" stroke-width="0.8"/>
<circle cx="300" cy="118" r="4.0" fill="#0000ff" stroke="#000090" stroke-width="0.8"/>
<circle cx="291.2" cy="119.2" r="4.0" fill="#0000ff" stroke="#000090" stroke-width="0.8"/>
<circle cx="279.2" cy="123.6" r="4.0" fill="#0000ff" stroke="#000090" stroke-width="0.8"/>
<circle cx="288" cy="128" r="4.0" fill="#0000ff" stroke="#000090" stroke-width="0.8"/>
<circle cx="315" cy="122.4" r="4.0" fill="#0000ff" stroke="#000090" stroke-width="0.8"/>
<circle cx="331.4" cy="125.6" r="4.0" fill="#0000ff" stroke="#000090" stroke-width="0.8"/>
<circle cx="344.4" cy="119.6" r="4.0" fill="#0000ff" stroke="#000090" stroke-width="0.8"/>
<circle cx="347.6" cy="125.6" r="4.0" fill="#0000ff" stroke="#000090" stroke-width="0.8"/>
<circle cx="249.6" cy="133" r="4.0" fill="#0000ff" stroke="#000090" stroke-width="0.8"/>
<circle cx="255.6" cy="134.4" r="4.0" fill="#0000ff" stroke="#000090" stroke-width="0.8"/>
<circle cx="280" cy="135" r="4.0" fill="#0000ff" stroke="#000090" stroke-width="0.8"/>
<circle cx="285" cy="134.4" r="4.0" fill="#0000ff" stroke="#000090" stroke-width="0.8"/>
<circle cx="313" cy="132" r="4.0" fill="#0000ff" stroke="#000090" stroke-width="0.8"/>
<circle cx="377.4" cy="111" r="4.0" fill="#0000ff" stroke="#000090" stroke-width="0.8"/>
<circle cx="379.4" cy="115" r="4.0" fill="#0000ff" stroke="#000090" stroke-width="0.8"/>
<circle cx="390" cy="91.4" r="4.0" fill="#0000ff" stroke="#000090" stroke-width="0.8"/>
<circle cx="389" cy="100.8" r="4.0" fill="#0000ff" stroke="#000090" stroke-width="0.8"/>
<circle cx="405.4" cy="98.4" r="4.0" fill="#0000ff" stroke="#000090" stroke-width="0.8"/>
<circle cx="419.4" cy="81.6" r="4.0" fill="#0000ff" stroke="#000090" stroke-width="0.8"/>
<circle cx="427.4" cy="85.4" r="4.0" fill="#0000ff" stroke="#000090" stroke-width="0.8"/>
<circle cx="417.4" cy="90" r="4.0" fill="#0000ff" stroke="#000090" stroke-width="0.8"/>
<circle cx="420.6" cy="95.6" r="4.0" fill="#0000ff" stroke="#000090" stroke-width="0.8"/>
<circle cx="400" cy="114" r="4.0" fill="#0000ff" stroke="#000090" stroke-width="0.8"/>
<circle cx="400.6" cy="118" r="4.0" fill="#0000ff" stroke="#000090" stroke-width="0.8"/>
<circle cx="401.4" cy="121" r="4.0" fill="#0000ff" stroke="#000090" stroke-width="0.8"/>
<circle cx="415" cy="110.4" r="4.0" fill="#0000ff" stroke="#000090" stroke-width="0.8"/>
<circle cx="423" cy="110.4" r="4.0" fill="#0000ff" stroke="#000090" stroke-width="0.8"/>
<circle cx="457.6" cy="108" r="4.0" fill="#0000ff" stroke="#000090" stroke-width="0.8"/>
<circle cx="386" cy="124.4" r="4.0" fill="#0000ff" stroke="#000090" stroke-width="0.8"/>
<circle cx="394.6" cy="126.6" r="4.0" fill="#0000ff" stroke="#000090" stroke-width="0.8"/>
<circle cx="414.6" cy="127.6" r="4.0" fill="#0000ff" stroke="#000090" stroke-width="0.8"/>
<circle cx="410" cy="130" r="4.0" fill="#0000ff" stroke="#000090" stroke-width="0.8"/>
<circle cx="421.6" cy="131" r="4.0" fill="#0000ff" stroke="#000090" stroke-width="0.8"/>
<circle cx="428.2" cy="123.4" r="4.0" fill="#0000ff" stroke="#000090" stroke-width="0.8"/>
<circle cx="450.2" cy="122.4" r="4.0" fill="#0000ff" stroke="#000090" stroke-width="0.8"/>
<circle cx="442.6" cy="130" r="4.0" fill="#0000ff" stroke="#000090" stroke-width="0.8"/>
<circle cx="376" cy="131.6" r="4.0" fill="#0000ff" stroke="#000090" stroke-width="0.8"/>
<circle cx="400" cy="134.4" r="4.0" fill="#0000ff" stroke="#000090" stroke-width="0.8"/>
<circle cx="462" cy="129.6" r="4.0" fill="#0000ff" stroke="#000090" stroke-width="0.8"/>
<circle cx="457.4" cy="134.4" r="4.0" fill="#0000ff" stroke="#000090" stroke-width="0.8"/>
<circle cx="478.6" cy="126" r="4.0" fill="#0000ff" stroke="#000090" stroke-width="0.8"/>
<circle cx="481" cy="131" r="4.0" fill="#0000ff" stroke="#000090" stroke-width="0.8"/>
<circle cx="487.4" cy="133" r="4.0" fill="#0000ff" stroke="#000090" stroke-width="0.8"/>
<circle cx="537" cy="132" r="4.0" fill="#0000ff" stroke="#000090" stroke-width="0.8"/>
<circle cx="197.4" cy="141" r="4.0" fill="#0000ff" stroke="#000090" stroke-width="0.8"/>
<circle cx="165" cy="150.6" r="4.0" fill="#0000ff" stroke="#000090" stroke-width="0.8"/>
<circle cx="223.4" cy="147.4" r="4.0" fill="#0000ff" stroke="#000090" stroke-width="0.8"/>
<circle cx="235.6" cy="154" r="4.0" fill="#0000ff" stroke="#000090" stroke-width="0.8"/>
<circle cx="227" cy="166" r="4.0" fill="#0000ff" stroke="#000090" stroke-width="0.8"/>
<circle cx="144" cy="191" r="4.0" fill="#0000ff" stroke="#000090" stroke-width="0.8"/>
<circle cx="241" cy="210.4" r="4.0" fill="#0000ff" stroke="#000090" stroke-width="0.8"/>
<circle cx="249" cy="211.5" r="4.0" fill="#0000ff" stroke="#000090" stroke-width="0.8"/>
<circle cx="280" cy="148.6" r="4.0" fill="#0000ff" stroke="#000090" stroke-width="0.8"/>
<circle cx="265" cy="168" r="4.0" fill="#0000ff" stroke="#000090" stroke-width="0.8"/>
<circle cx="283.6" cy="170" r="4.0" fill="#0000ff" stroke="#000090" stroke-width="0.8"/>
<circle cx="285" cy="177" r="4.0" fill="#0000ff" stroke="#000090" stroke-width="0.8"/>
<circle cx="277" cy="183.4" r="4.0" fill="#0000ff" stroke="#000090" stroke-width="0.8"/>
<circle cx="290.1" cy="188.8" r="4.0" fill="#0000ff" stroke="#000090" stroke-width="0.8"/>
<circle cx="317.1" cy="139.9" r="4.0" fill="#0000ff" stroke="#000090" stroke-width="0.8"/>
<circle cx="325.6" cy="139.9" r="4.0" fill="#0000ff" stroke="#000090" stroke-width="0.8"/>
<circle cx="334.1" cy="141.1" r="4.0" fill="#0000ff" stroke="#000090" stroke-width="0.8"/>
<circle cx="337.3" cy="140.7" r="4.0" fill="#0000ff" stroke="#000090" stroke-width="0.8"/>
<circle cx="333.2" cy="145.8" r="4.0" fill="#0000ff" stroke="#000090" stroke-width="0.8"/>
<circle cx="325" cy="151.6" r="4.0" fill="#0000ff" stroke="#000090" stroke-width="0.8"/>
<circle cx="330.3" cy="151.6" r="4.0" fill="#0000ff" stroke="#000090" stroke-width="0.8"/>
<circle cx="337.9" cy="151" r="4.0" fill="#0000ff" stroke="#000090" stroke-width="0.8"/>
<circle cx="335.5" cy="155.1" r="4.0" fill="#0000ff" stroke="#000090" stroke-width="0.8"/>
<circle cx="347.2" cy="144" r="4.0" fill="#0000ff" stroke="#000090" stroke-width="0.8"/>
<circle cx="350.1" cy="146.9" r="4.0" fill="#0000ff" stroke="#000090" stroke-width="0.8"/>
<circle cx="352.5" cy="151.6" r="4.0" fill="#0000ff" stroke="#000090" stroke-width="0.8"/>
<circle cx="368.2" cy="154.2" r="4.0" fill="#0000ff" stroke="#000090" stroke-width="0.8"/>
<circle cx="312.8" cy="155.9" r="4.0" fill="#0000ff" stroke="#000090" stroke-width="0.8"/>
<circle cx="311" cy="164.5" r="4.0" fill="#0000ff" stroke="#000090" stroke-width="0.8"/>
<circle cx="307.3" cy="168.3" r="4.0" fill="#0000ff" stroke="#000090" stroke-width="0.8"/>
<circle cx="341.2" cy="163.9" r="4.0" fill="#0000ff" stroke="#000090" stroke-width="0.8"/>
<circle cx="340.2" cy="175" r="4.0" fill="#0000ff" stroke="#000090" stroke-width="0.8"/>
<circle cx="339.1" cy="180.2" r="4.0" fill="#0000ff" stroke="#000090" stroke-width="0.8"/>
<circle cx="330.3" cy="182" r="4.0" fill="#0000ff" stroke="#000090" stroke-width="0.8"/>
<circle cx="313.9" cy="180.8" r="4.0" fill="#0000ff" stroke="#000090" stroke-width="0.8"/>
<circle cx="321" cy="184.9" r="4.0" fill="#0000ff" stroke="#000090" stroke-width="0.8"/>
<circle cx="312.8" cy="186.6" r="4.0" fill="#0000ff" stroke="#000090" stroke-width="0.8"/>
<circle cx="304.2" cy="186.1" r="4.0" fill="#0000ff" stroke="#000090" stroke-width="0.8"/>
<circle cx="359.5" cy="184.9" r="4.0" fill="#0000ff" stroke="#000090" stroke-width="0.8"/>
<circle cx="370.7" cy="140.7" r="4.0" fill="#0000ff" stroke="#000090" stroke-width="0.8"/>
<circle cx="388" cy="139.3" r="4.0" fill="#0000ff" stroke="#000090" stroke-width="0.8"/>
<circle cx="384" cy="145" r="4.0" fill="#0000ff" stroke="#000090" stroke-width="0.8"/>
<circle cx="379.9" cy="146.4" r="4.0" fill="#0000ff" stroke="#000090" stroke-width="0.8"/>
<circle cx="393.6" cy="145.2" r="4.0" fill="#0000ff" stroke="#000090" stroke-width="0.8"/>
<circle cx="385.7" cy="151" r="4.0" fill="#0000ff" stroke="#000090" stroke-width="0.8"/>
<circle cx="372.8" cy="152.8" r="4.0" fill="#0000ff" stroke="#000090" stroke-width="0.8"/>
<circle cx="409.6" cy="140.7" r="4.0" fill="#0000ff" stroke="#000090" stroke-width="0.8"/>
<circle cx="415.1" cy="148.1" r="4.0" fill="#0000ff" stroke="#000090" stroke-width="0.8"/>
<circle cx="418.4" cy="153.9" r="4.0" fill="#0000ff" stroke="#000090" stroke-width="0.8"/>
<circle cx="424.9" cy="146.1" r="4.0" fill="#0000ff" stroke="#000090" stroke-width="0.8"/>
<circle cx="427.6" cy="149.9" r="4.0" fill="#0000ff" stroke="#000090" stroke-width="0.8"/>
<circle cx="430.5" cy="140.6" r="4.0" fill="#0000ff" stroke="#000090" stroke-width="0.8"/>
<circle cx="434.9" cy="142" r="4.0" fill="#0000ff" stroke="#000090" stroke-width="0.8"/>
<circle cx="441.6" cy="138.2" r="4.0" fill="#0000ff" stroke="#000090" stroke-width="0.8"/>
<circle cx="440.7" cy="143.8" r="4.0" fill="#0000ff" stroke="#000090" stroke-width="0.8"/>
<circle cx="408.8" cy="158.3" r="4.0" fill="#0000ff" stroke="#000090" stroke-width="0.8"/>
<circle cx="385.9" cy="163.9" r="4.0" fill="#0000ff" stroke="#000090" stroke-width="0.8"/>
<circle cx="387.1" cy="166.2" r="4.0" fill="#0000ff" stroke="#000090" stroke-width="0.8"/>
<circle cx="397.4" cy="176.7" r="4.0" fill="#0000ff" stroke="#000090" stroke-width="0.8"/>
<circle cx="403.2" cy="175" r="4.0" fill="#0000ff" stroke="#000090" stroke-width="0.8"/>
<circle cx="379.3" cy="182.3" r="4.0" fill="#0000ff" stroke="#000090" stroke-width="0.8"/>
<circle cx="430.7" cy="182.3" r="4.0" fill="#0000ff" stroke="#000090" stroke-width="0.8"/>
<circle cx="463.3" cy="137.8" r="4.0" fill="#0000ff" stroke="#000090" stroke-width="0.8"/>
<circle cx="467.6" cy="140" r="4.0" fill="#0000ff" stroke="#000090" stroke-width="0.8"/>
<circle cx="474.1" cy="146.6" r="4.0" fill="#0000ff" stroke="#000090" stroke-width="0.8"/>
<circle cx="489.3" cy="143.1" r="4.0" fill="#0000ff" stroke="#000090" stroke-width="0.8"/>
<circle cx="493.1" cy="153.6" r="4.0" fill="#0000ff" stroke="#000090" stroke-width="0.8"/>
<circle cx="481.4" cy="158.3" r="4.0" fill="#0000ff" stroke="#000090" stroke-width="0.8"/>
<circle cx="475" cy="161.8" r="4.0" fill="#0000ff" stroke="#000090" stroke-width="0.8"/>
<circle cx="493.6" cy="164.1" r="4.0" fill="#0000ff" stroke="#000090" stroke-width="0.8"/>
<circle cx="443.4" cy="164.7" r="4.0" fill="#0000ff" stroke="#000090" stroke-width="0.8"/>
<circle cx="522.1" cy="138.5" r="4.0" fill="#0000ff" stroke="#000090" stroke-width="0.8"/>
<circle cx="518.7" cy="144.3" r="4.0" fill="#0000ff" stroke="#000090" stroke-width="0.8"/>
<circle cx="331.3" cy="219.5" r="4.0" fill="#0000ff" stroke="#000090" stroke-width="0.8"/>
<circle cx="354.2" cy="222.4" r="4.0" fill="#0000ff" stroke="#000090" stroke-width="0.8"/>
<circle cx="415.3" cy="205.2" r="4.0" fill="#0000ff" stroke="#000090" stroke-width="0.8"/>
<circle cx="452.3" cy="208.6" r="4.0" fill="#0000ff" stroke="#000090" stroke-width="0.8"/>
<circle cx="470.7" cy="234.6" r="4.0" fill="#0000ff" stroke="#000090" stroke-width="0.8"/>
<circle cx="236.5" cy="665" r="4.5" fill="#0f6b45"/>
<circle cx="225.2" cy="679.1" r="4.5" fill="#0f6b45"/>
<circle cx="234.2" cy="684.6" r="4.5" fill="#0f6b45"/>
<polygon points="196.60,656.10 200.88,659.21 199.25,664.24 193.95,664.24 192.32,659.21" fill="#a00000"/>
<polygon points="164.00,674.40 168.28,677.51 166.65,682.54 161.35,682.54 159.72,677.51" fill="#a00000"/>
<polygon points="220.60,651.30 224.88,654.41 223.25,659.44 217.95,659.44 216.32,654.41" fill="#a00000"/>
<polygon points="183.40,670.50 187.68,673.61 186.05,678.64 180.75,678.64 179.12,673.61" fill="#a00000"/>
<polygon points="181.20,674.50 185.48,677.61 183.85,682.64 178.55,682.64 176.92,677.61" fill="#a00000"/>
<polygon points="217.10,670.80 221.38,673.91 219.75,678.94 214.45,678.94 212.82,673.91" fill="#a00000"/>
<polygon points="212.70,674.00 216.98,677.11 215.35,682.14 210.05,682.14 208.42,677.11" fill="#a00000"/>
<polygon points="258.60,658.50 262.88,661.61 261.25,666.64 255.95,666.64 254.32,661.61" fill="#a00000"/>
<polygon points="261.00,668.00 265.28,671.11 263.65,676.14 258.35,676.14 256.72,671.11" fill="#a00000"/>
<polygon points="240.30,674.10 244.58,677.21 242.95,682.24 237.65,682.24 236.02,677.21" fill="#a00000"/>
<polygon points="243.00,676.30 247.28,679.41 245.65,684.44 240.35,684.44 238.72,679.41" fill="#a00000"/>
<polygon points="297.20,663.10 301.48,666.21 299.85,671.24 294.55,671.24 292.92,666.21" fill="#a00000"/>
<polygon points="318.20,660.60 322.48,663.71 320.85,668.74 315.55,668.74 313.92,663.71" fill="#a00000"/>
<polygon points="338.00,680.90 342.28,684.01 340.65,689.04 335.35,689.04 333.72,684.01" fill="#a00000"/>
<polygon points="340.20,686.30 344.48,689.41 342.85,694.44 337.55,694.44 335.92,689.41" fill="#a00000"/>
<polygon points="341.80,691.30 346.08,694.41 344.45,699.44 339.15,699.44 337.52,694.41" fill="#a00000"/>
<polygon points="348.10,685.00 352.38,688.11 350.75,693.14 345.45,693.14 343.82,688.11" fill="#a00000"/>
<polygon points="369.60,684.10 373.88,687.21 372.25,692.24 366.95,692.24 365.32,687.21" fill="#a00000"/>
<polygon points="371.80,693.70 376.08,696.81 374.45,701.84 369.15,701.84 367.52,696.81" fill="#a00000"/>
<polygon points="228.10,656.90 231.74,659.00 231.74,663.20 228.10,665.30 224.46,663.20 224.46,659.00" fill="#eb9a10"/>
<polygon points="250.70,657.00 254.34,659.10 254.34,663.30 250.70,665.40 247.06,663.30 247.06,659.10" fill="#eb9a10"/>
<polygon points="253.20,663.00 256.84,665.10 256.84,669.30 253.20,671.40 249.56,669.30 249.56,665.10" fill="#eb9a10"/>
<polygon points="246.80,670.50 250.44,672.60 250.44,676.80 246.80,678.90 243.16,676.80 243.16,672.60" fill="#eb9a10"/>
<polygon points="251.20,674.90 254.84,677.00 254.84,681.20 251.20,683.30 247.56,681.20 247.56,677.00" fill="#eb9a10"/>
<polygon points="244.60,681.50 248.24,683.60 248.24,687.80 244.60,689.90 240.96,687.80 240.96,683.60" fill="#eb9a10"/>
<polygon points="288.00,658.30 291.64,660.40 291.64,664.60 288.00,666.70 284.36,664.60 284.36,660.40" fill="#eb9a10"/>
<polygon points="293.20,669.30 296.84,671.40 296.84,675.60 293.20,677.70 289.56,675.60 289.56,671.40" fill="#eb9a10"/>
<polygon points="298.80,676.10 302.44,678.20 302.44,682.40 298.80,684.50 295.16,682.40 295.16,678.20" fill="#eb9a10"/>
<polygon points="314.20,669.10 317.84,671.20 317.84,675.40 314.20,677.50 310.56,675.40 310.56,671.20" fill="#eb9a10"/>
<polygon points="334.80,673.50 338.44,675.60 338.44,679.80 334.80,681.90 331.16,679.80 331.16,675.60" fill="#eb9a10"/>
<polygon points="341.20,677.10 344.84,679.20 344.84,683.40 341.20,685.50 337.56,683.40 337.56,679.20" fill="#eb9a10"/>
<polygon points="365.20,685.70 368.84,687.80 368.84,692.00 365.20,694.10 361.56,692.00 361.56,687.80" fill="#eb9a10"/>
<polygon points="412.30,683.80 415.94,685.90 415.94,690.10 412.30,692.20 408.66,690.10 408.66,685.90" fill="#eb9a10"/>
<polygon points="273.6,662.5 277.8,666.7 273.6,670.9000000000001 269.40000000000003,666.7" fill="#1aa3ea"/>
<polygon points="312.9,652.1999999999999 317.09999999999997,656.4 312.9,660.6 308.7,656.4" fill="#1aa3ea"/>
<polygon points="314.2,679.4 318.4,683.6 314.2,687.8000000000001 310.0,683.6" fill="#1aa3ea"/>
<polygon points="495.7,659.5999999999999 499.9,663.8 495.7,668.0 491.5,663.8" fill="#1aa3ea"/>
<rect x="190.50" y="650.00" width="7.6" height="7.6" fill="#11dd11"/>
<rect x="147.00" y="673.20" width="7.6" height="7.6" fill="#11dd11"/>
<rect x="232.80" y="655.80" width="7.6" height="7.6" fill="#11dd11"/>
<rect x="262.40" y="650.00" width="7.6" height="7.6" fill="#11dd11"/>
<rect x="264.40" y="661.60" width="7.6" height="7.6" fill="#11dd11"/>
<rect x="267.80" y="668.60" width="7.6" height="7.6" fill="#11dd11"/>
<rect x="260.10" y="675.20" width="7.6" height="7.6" fill="#11dd11"/>
<rect x="276.80" y="660.50" width="7.6" height="7.6" fill="#11dd11"/>
<rect x="280.00" y="664.50" width="7.6" height="7.6" fill="#11dd11"/>
<rect x="285.90" y="672.70" width="7.6" height="7.6" fill="#11dd11"/>
<rect x="308.10" y="659.80" width="7.6" height="7.6" fill="#11dd11"/>
<rect x="301.40" y="666.10" width="7.6" height="7.6" fill="#11dd11"/>
<rect x="314.40" y="668.50" width="7.6" height="7.6" fill="#11dd11"/>
<rect x="303.70" y="680.60" width="7.6" height="7.6" fill="#11dd11"/>
<rect x="323.30" y="664.70" width="7.6" height="7.6" fill="#11dd11"/>
<rect x="321.20" y="676.30" width="7.6" height="7.6" fill="#11dd11"/>
<rect x="421.30" y="670.20" width="7.6" height="7.6" fill="#11dd11"/>
<circle cx="257.5" cy="704.2" r="4.3" fill="#f8e040"/>
<polygon points="177.90,631.30 182.23,638.80 173.57,638.80" fill="#f4a0a0"/>
<circle cx="139.9" cy="678.9" r="3.7" fill="#9a10f0"/>
<circle cx="147.3" cy="689.8" r="3.7" fill="#9a10f0"/>
<circle cx="141.8" cy="694.1" r="3.7" fill="#9a10f0"/>
<circle cx="214.9" cy="661.6" r="3.7" fill="#9a10f0"/>
<circle cx="226.7" cy="665.9" r="3.7" fill="#9a10f0"/>
<circle cx="191.1" cy="673.5" r="3.7" fill="#9a10f0"/>
<circle cx="215.8" cy="683.9" r="3.7" fill="#9a10f0"/>
<circle cx="212.3" cy="686.8" r="3.7" fill="#9a10f0"/>
<circle cx="229" cy="677.7" r="3.7" fill="#9a10f0"/>
<circle cx="263.9" cy="646.5" r="3.7" fill="#9a10f0"/>
<circle cx="274.9" cy="644.8" r="3.7" fill="#9a10f0"/>
<circle cx="283.4" cy="637.7" r="3.7" fill="#9a10f0"/>
<circle cx="288.3" cy="645.3" r="3.7" fill="#9a10f0"/>
<circle cx="288.3" cy="650.8" r="3.7" fill="#9a10f0"/>
<circle cx="248.8" cy="653.7" r="3.7" fill="#9a10f0"/>
<circle cx="246" cy="655.9" r="3.7" fill="#9a10f0"/>
<circle cx="269.6" cy="656.3" r="3.7" fill="#9a10f0"/>
<circle cx="245.3" cy="662.7" r="3.7" fill="#9a10f0"/>
<circle cx="281.4" cy="677.2" r="3.7" fill="#9a10f0"/>
<circle cx="283.6" cy="680.3" r="3.7" fill="#9a10f0"/>
<circle cx="239.3" cy="685" r="3.7" fill="#9a10f0"/>
<circle cx="253.1" cy="692.2" r="3.7" fill="#9a10f0"/>
<circle cx="234.5" cy="716.1" r="3.7" fill="#9a10f0"/>
<circle cx="325" cy="620.3" r="3.7" fill="#9a10f0"/>
<circle cx="296.6" cy="643" r="3.7" fill="#9a10f0"/>
<circle cx="303.1" cy="652.9" r="3.7" fill="#9a10f0"/>
<circle cx="306.2" cy="649.8" r="3.7" fill="#9a10f0"/>
<circle cx="312" cy="649.6" r="3.7" fill="#9a10f0"/>
<circle cx="314.5" cy="651.5" r="3.7" fill="#9a10f0"/>
<circle cx="324.9" cy="648.5" r="3.7" fill="#9a10f0"/>
<circle cx="337" cy="658.4" r="3.7" fill="#9a10f0"/>
<circle cx="288.5" cy="665.5" r="3.7" fill="#9a10f0"/>
<circle cx="287.7" cy="671.3" r="3.7" fill="#9a10f0"/>
<circle cx="308.5" cy="669.6" r="3.7" fill="#9a10f0"/>
<circle cx="312.6" cy="676" r="3.7" fill="#9a10f0"/>
<circle cx="304.2" cy="677" r="3.7" fill="#9a10f0"/>
<circle cx="325.4" cy="672.3" r="3.7" fill="#9a10f0"/>
<circle cx="325.9" cy="694.5" r="3.7" fill="#9a10f0"/>
<circle cx="372.8" cy="666.1" r="3.7" fill="#9a10f0"/>
<circle cx="382.3" cy="662.6" r="3.7" fill="#9a10f0"/>
<circle cx="386.6" cy="663.7" r="3.7" fill="#9a10f0"/>
<circle cx="418.7" cy="665" r="3.7" fill="#9a10f0"/>
<circle cx="434.9" cy="660.6" r="3.7" fill="#9a10f0"/>
<circle cx="415.2" cy="673.7" r="3.7" fill="#9a10f0"/>
<circle cx="466.6" cy="729.3" r="3.7" fill="#9a10f0"/>
<polygon points="264.00,433.40 265.53,436.50 268.95,436.99 266.47,439.40 267.06,442.81 264.00,441.20 260.94,442.81 261.53,439.40 259.05,436.99 262.47,436.50" fill="#0a0ae8" stroke="#00007a" stroke-width="0.6" stroke-linejoin="round"/>
<polygon points="250.70,456.10 252.23,459.20 255.65,459.69 253.17,462.10 253.76,465.51 250.70,463.90 247.64,465.51 248.23,462.10 245.75,459.69 249.17,459.20" fill="#0a0ae8" stroke="#00007a" stroke-width="0.6" stroke-linejoin="round"/>
<polygon points="260.80,495.40 262.33,498.50 265.75,498.99 263.27,501.40 263.86,504.81 260.80,503.20 257.74,504.81 258.33,501.40 255.85,498.99 259.27,498.50" fill="#0a0ae8" stroke="#00007a" stroke-width="0.6" stroke-linejoin="round"/>
<polygon points="270.20,527.90 271.73,531.00 275.15,531.49 272.67,533.90 273.26,537.31 270.20,535.70 267.14,537.31 267.73,533.90 265.25,531.49 268.67,531.00" fill="#0a0ae8" stroke="#00007a" stroke-width="0.6" stroke-linejoin="round"/>
<polygon points="196.60,656.10 200.88,659.21 199.25,664.24 193.95,664.24 192.32,659.21" fill="#a00000"/>
</svg></body></html>
